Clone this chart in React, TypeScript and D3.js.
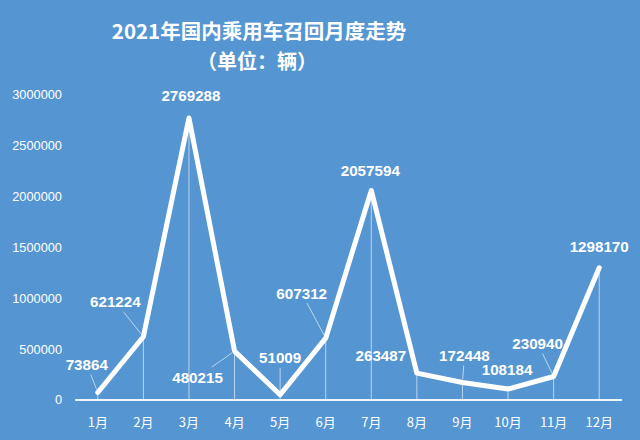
import React from "react";
import * as d3 from "d3";

const months = ["1月", "2月", "3月", "4月", "5月", "6月", "7月", "8月", "9月", "10月", "11月", "12月"];
const recalls = [73864, 621224, 2769288, 480215, 51009, 607312, 2057594, 263487, 172448, 108184, 230940, 1298170];
const yTicks = [0, 500000, 1000000, 1500000, 2000000, 2500000, 3000000];
const titleLines = ["2021年国内乘用车召回月度走势", "（单位：辆）"];

// label placement offsets (dx, dy from point) and whether a leader line is drawn
const labelDx = [-11, -28, 2, -37, 0, -24, -1, -36, 2, -1, -16, 0];
const labelDy = [-28, -35, -22, 26, -37, -45, -20, -18, -27, -19, -33, -21];
const leader = [true, true, false, true, true, true, false, false, true, false, true, false];

const W = 640;
const H = 440;
const BG = "#5596d2";

export default function App() {
  const x = d3.scalePoint<string>().domain(months).range([75, 622]).padding(0.5);
  const y = d3.scaleLinear().domain([0, 3000000]).range([400, 94.5]);
  const line = d3
    .line<number>()
    .x((_, i) => x(months[i]) as number)
    .y((d) => y(d));

  const labelFont = "'Liberation Sans', Arial, sans-serif";

  return (
    <svg width={W} height={H} style={{ position: "absolute", left: 0, top: 0, display: "block" }}>
      <rect x={0} y={0} width={W} height={H} fill={BG} />
      <text
        x={259}
        y={39}
        textAnchor="middle"
        fill="#fff"
        fontFamily="'Noto Sans CJK SC', sans-serif"
        fontWeight="bold"
        fontSize={20.5}
      >
        {titleLines[0]}
      </text>
      <text
        x={257}
        y={69}
        textAnchor="middle"
        fill="#fff"
        fontFamily="'Noto Sans CJK SC', sans-serif"
        fontWeight="bold"
        fontSize={20}
      >
        {titleLines[1]}
      </text>

      {yTicks.map((t) => (
        <text
          key={t}
          x={62}
          y={y(t)}
          dy="0.35em"
          textAnchor="end"
          fill="#fff"
          fontFamily={labelFont}
          fontSize={12.8}
        >
          {t}
        </text>
      ))}

      {/* drop lines */}
      {recalls.map((v, i) => (
        <line
          key={"d" + i}
          x1={x(months[i])}
          x2={x(months[i])}
          y1={y(v)}
          y2={y(0)}
          stroke="#fff"
          strokeOpacity={0.6}
          strokeWidth={1}
        />
      ))}

      <line x1={75} x2={622} y1={y(0)} y2={y(0)} stroke="#fff" strokeWidth={2} strokeOpacity={0.9} />

      {months.map((m) => (
        <text
          key={m}
          x={x(m)}
          y={422}
          dy="0.35em"
          textAnchor="middle"
          fill="#fff"
          fontFamily="'Noto Sans CJK SC', sans-serif"
          fontSize={13}
        >
          {m}
        </text>
      ))}

      <path
        d={line(recalls) || ""}
        fill="none"
        stroke="#fff"
        strokeWidth={5}
        strokeLinejoin="round"
        strokeLinecap="round"
      />

      {/* leader lines */}
      {recalls.map((v, i) => {
        if (!leader[i]) return null;
        const px = x(months[i]) as number;
        const py = y(v);
        const lx = px + labelDx[i];
        const ly = py + labelDy[i];
        const vx = px - lx;
        const vy = py - ly;
        const len = Math.hypot(vx, vy);
        const hw = 27;
        const hh = 10;
        const s = Math.min(Math.abs(vx) > 0 ? hw / Math.abs(vx) : Infinity, Math.abs(vy) > 0 ? hh / Math.abs(vy) : Infinity);
        const sx = lx + vx * s;
        const sy = ly + vy * s;
        const ex = px - (vx / len) * 3;
        const ey = py - (vy / len) * 3;
        return (
          <line key={"l" + i} x1={sx} y1={sy} x2={ex} y2={ey} stroke="#fff" strokeOpacity={0.6} strokeWidth={1} />
        );
      })}

      {recalls.map((v, i) => (
        <text
          key={"t" + i}
          x={(x(months[i]) as number) + labelDx[i]}
          y={y(v) + labelDy[i]}
          dy="0.36em"
          textAnchor="middle"
          fill="#fff"
          fontFamily={labelFont}
          fontWeight="bold"
          fontSize={15.2}
        >
          {v}
        </text>
      ))}
    </svg>
  );
}
